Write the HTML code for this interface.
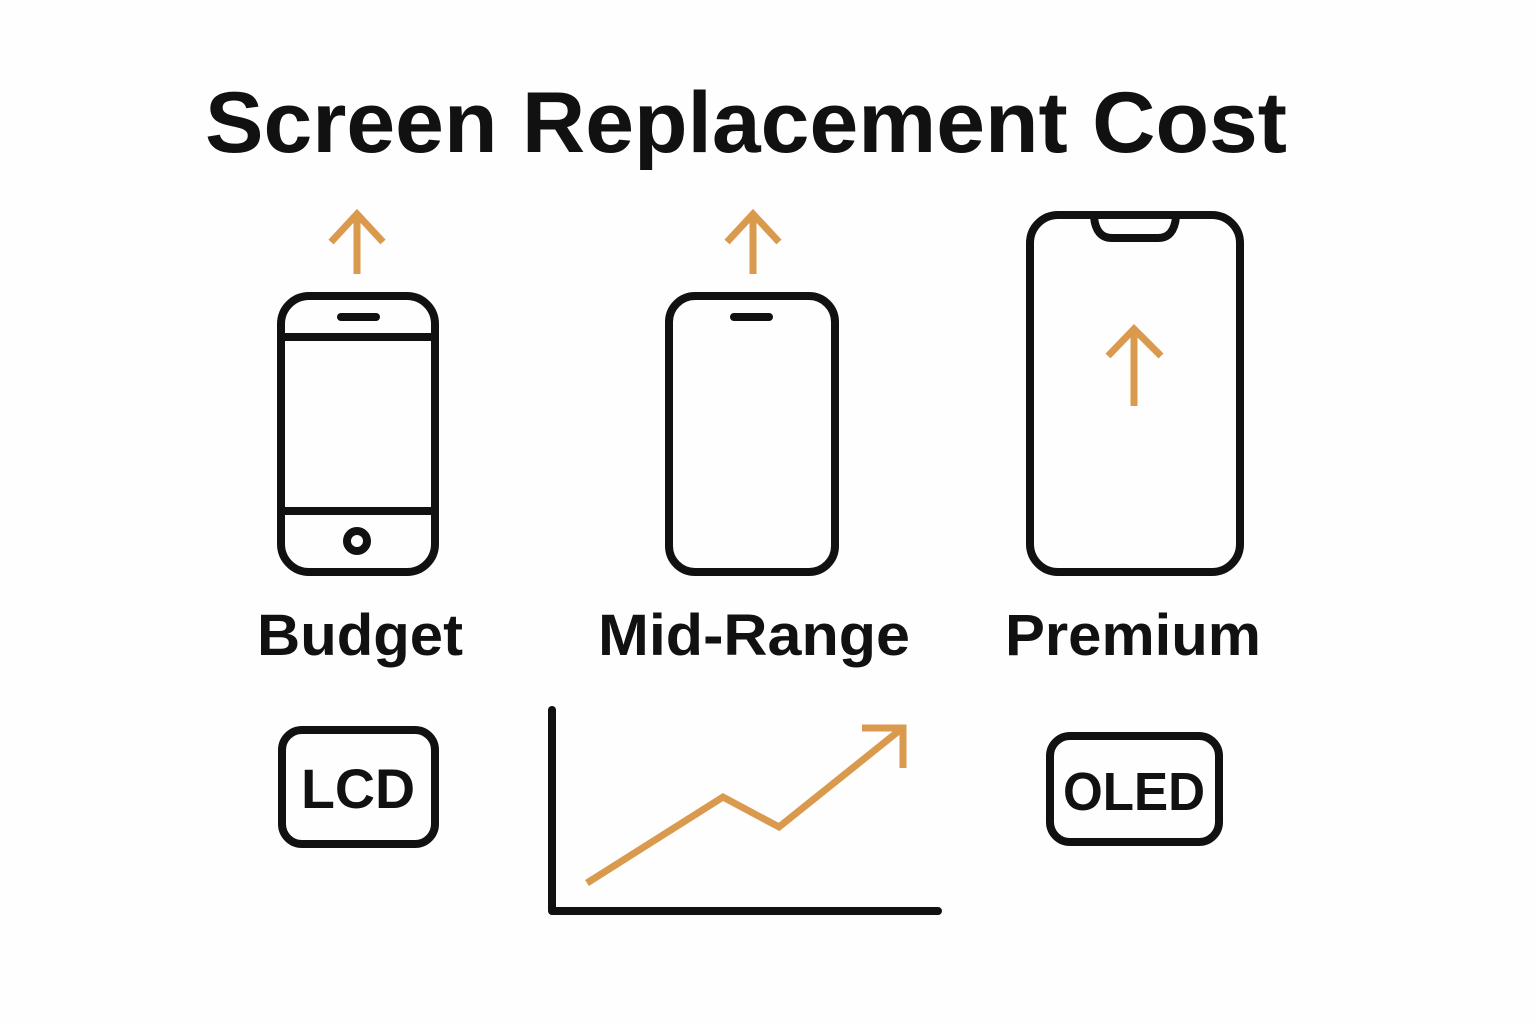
<!DOCTYPE html>
<html><head><meta charset="utf-8"><style>html,body{margin:0;padding:0;background:#fefefe}svg{display:block}</style></head>
<body>
<svg width="1536" height="1024" viewBox="0 0 1536 1024" xmlns="http://www.w3.org/2000/svg">
<rect width="1536" height="1024" fill="#fefefe"/>
<g font-family="Liberation Sans, sans-serif" font-weight="bold" fill="#111">
<text x="205" y="152" font-size="86" textLength="1082" lengthAdjust="spacingAndGlyphs">Screen Replacement Cost</text>
<text x="360" y="655" font-size="58" text-anchor="middle" textLength="206" lengthAdjust="spacingAndGlyphs">Budget</text>
<text x="754" y="655" font-size="58" text-anchor="middle" textLength="312" lengthAdjust="spacingAndGlyphs">Mid-Range</text>
<text x="1133" y="655" font-size="58" text-anchor="middle" textLength="256" lengthAdjust="spacingAndGlyphs">Premium</text>
<text x="358" y="808" font-size="56" text-anchor="middle" textLength="114" lengthAdjust="spacingAndGlyphs">LCD</text>
<text x="1134" y="810" font-size="54" text-anchor="middle" textLength="142" lengthAdjust="spacingAndGlyphs">OLED</text>
</g>
<g fill="none" stroke="#111" stroke-width="8" stroke-linecap="round" stroke-linejoin="round">
<rect x="281" y="296" width="154" height="276" rx="28"/>
<line x1="281" y1="337" x2="435" y2="337"/>
<line x1="281" y1="511" x2="435" y2="511"/>
<line x1="341" y1="317" x2="376" y2="317"/>
<circle cx="357" cy="541" r="10"/>
<rect x="669" y="296" width="166" height="276" rx="26"/>
<line x1="734" y1="317" x2="769" y2="317"/>
<rect x="1030" y="215" width="210" height="357" rx="28"/>
<path d="M1094 217 Q1096 238 1112 238 L1158 238 Q1174 238 1176 217"/>
<rect x="282" y="730" width="153" height="114" rx="20"/>
<rect x="1050" y="736" width="169" height="106" rx="20"/>
<polyline points="552,710 552,911 938,911"/>
</g>
<g fill="none" stroke="#D99A4E" stroke-width="7" stroke-linecap="butt" stroke-linejoin="miter">
<line x1="357" y1="274" x2="357" y2="213"/>
<polyline points="331,242 357,214 383,242"/>
<line x1="753" y1="274" x2="753" y2="213"/>
<polyline points="727,242 753,214 779,242"/>
<line x1="1134" y1="406" x2="1134" y2="328"/>
<polyline points="1108,356 1134,329 1161,356"/>
<polyline points="587,883 723,797 779,827 900,730"/>
<polyline points="862,728 903,728 903,768"/>
</g>
</svg>
</body></html>
